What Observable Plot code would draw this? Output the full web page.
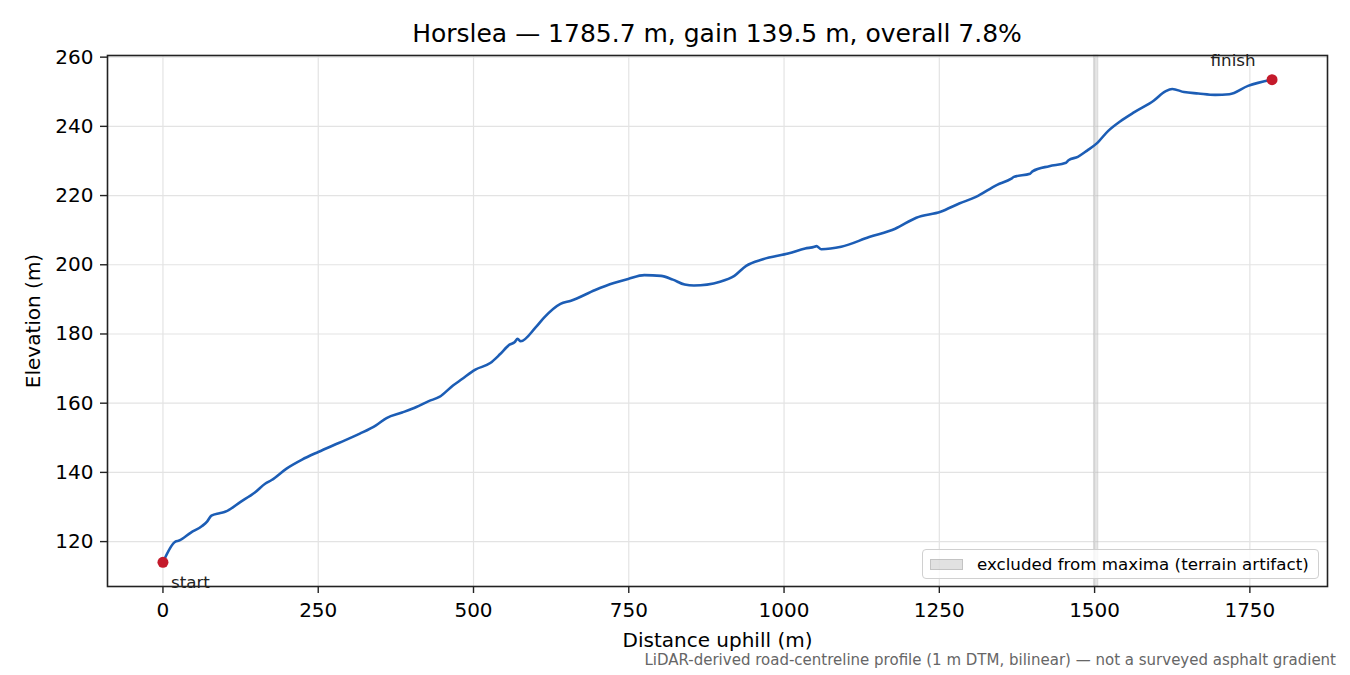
<!DOCTYPE html>
<html>
<head>
<meta charset="utf-8">
<script src="https://cdn.jsdelivr.net/npm/d3@7"></script>
<script src="https://cdn.jsdelivr.net/npm/@observablehq/plot@0.6"></script>
<style>
  html, body { margin: 0; padding: 0; background: #fff; }
  #wrap { position: relative; width: 1350px; height: 675px; font-family: "DejaVu Sans", sans-serif; color: #000; overflow: hidden; }
  #title { position: absolute; left: 107px; width: 1220px; top: 19px; line-height: 29px; font-size: 25px; text-align: center; white-space: nowrap; }
  #chart { position: absolute; left: 0; top: 53px; }
  #caption { position: absolute; right: 14px; top: 652px; font-size: 15px; line-height: 17px; color: #666; white-space: nowrap; }
  #legend { position: absolute; left: 922px; top: 549px; width: 397px; height: 30px; border: 1px solid #d0d0d0; border-radius: 4px; background: rgba(255,255,255,0.8); box-sizing: border-box; font-size: 16.7px; display: flex; align-items: center; }
  #legend .sw { width: 33px; height: 11px; margin-left: 7px; margin-right: 14px; background: rgba(180,180,180,0.4); border: 1px solid rgba(150,150,150,0.4); box-sizing: border-box; }
</style>
</head>
<body>
<div id="wrap">
  <div id="title"></div>
  <div id="chart"></div>
  <div id="legend"><div class="sw"></div><span id="legtext"></span></div>
  <div id="caption"></div>
</div>
<script>
// ---- data ----
const titleText = "Horslea — 1785.7 m, gain 139.5 m, overall 7.8%";
const captionText = "LiDAR-derived road-centreline profile (1 m DTM, bilinear) — not a surveyed asphalt gradient";
const legendText = "excluded from maxima (terrain artifact)";
const xLabel = "Distance uphill (m)";
const yLabel = "Elevation (m)";

const distance = [0, 20, 26, 45, 63, 71, 78, 91, 100, 125, 148, 165, 175, 199, 224, 250, 283, 317, 343, 360,
  385, 408, 428, 445, 467, 481, 503, 527, 543, 558, 566, 571, 576, 600, 614, 640, 657, 696, 726, 749,
  775, 802, 821, 840, 855, 897, 920, 939, 966, 1008, 1034, 1049, 1052, 1060, 1092, 1137, 1179, 1213, 1252, 1282,
  1309, 1343, 1366, 1370, 1396, 1400, 1427, 1454, 1458, 1473, 1488, 1503, 1522, 1541, 1564, 1595, 1614, 1625, 1644, 1667,
  1694, 1717, 1747, 1785.7];
const elevation = [114.0, 120.0, 120.3, 122.6, 124.5, 125.8, 127.5, 128.2, 128.6, 131.5, 134.2, 136.8, 137.8, 141.1, 143.7, 145.9, 148.5, 151.2, 153.6, 155.7,
  157.3, 158.9, 160.6, 161.8, 165.1, 166.9, 169.7, 171.6, 174.2, 176.9, 177.6, 178.6, 177.9, 181.9, 184.8, 188.7, 189.6, 192.7, 194.7, 195.9,
  197.0, 196.8, 195.7, 194.3, 194.0, 195.1, 196.8, 199.7, 201.6, 203.3, 204.7, 205.2, 205.4, 204.5, 205.2, 208.0, 210.4, 213.6, 215.3, 217.7,
  219.6, 223.1, 224.9, 225.4, 226.3, 227.0, 228.5, 229.5, 230.2, 231.2, 233.0, 235.0, 238.7, 241.4, 244.1, 247.4, 250.1, 250.8, 249.9, 249.5,
  249.1, 249.3, 251.7, 253.5];

const excludedStart = [1499];
const excludedEnd = [1506];

const endpointLabels = ["start", "finish"];
const xTicks = [0, 250, 500, 750, 1000, 1250, 1500, 1750];
const yTicks = [120, 140, 160, 180, 200, 220, 240, 260];

// ---- build ----
const profile = distance.map((d, i) => ({d, e: elevation[i]}));
const band = excludedStart.map((s, i) => ({x1: s, x2: excludedEnd[i]}));
const last = distance.length - 1;
const endpoints = [
  {d: distance[0], e: elevation[0], label: endpointLabels[0]},
  {d: distance[last], e: elevation[last], label: endpointLabels[1]}
];

const xMin = d3.min(distance), xMax = d3.max(distance);
const yMin = d3.min(elevation), yMax = d3.max(elevation);
const xPad = (xMax - xMin) * 0.05, yPad = (yMax - yMin) * 0.05;

document.getElementById("title").textContent = titleText;
document.getElementById("caption").textContent = captionText;
document.getElementById("legtext").textContent = legendText;

const lineColor = "#1c5db5";
const dotColor = "#c41a2b";
const gridColor = "#e3e3e3";

const chart = Plot.plot({
  width: 1350,
  height: 600,
  marginLeft: 107,
  marginRight: 23,
  marginTop: 2,
  marginBottom: 67,
  style: {fontFamily: "DejaVu Sans, sans-serif", fontSize: "20px", color: "#000", background: "transparent", overflow: "visible"},
  x: {domain: [xMin - xPad, xMax + xPad]},
  y: {domain: [yMin - yPad, yMax + yPad]},
  marks: [
    Plot.gridX(xTicks, {stroke: gridColor, strokeOpacity: 1, strokeWidth: 1.2}),
    Plot.gridY(yTicks, {stroke: gridColor, strokeOpacity: 1, strokeWidth: 1.2}),
    Plot.rect(band, {x1: "x1", x2: "x2", fill: "#b4b4b4", fillOpacity: 0.35, stroke: "#b4b4b4", strokeOpacity: 0.35}),
    Plot.line(profile, {x: "d", y: "e", stroke: lineColor, strokeWidth: 2.6, curve: "monotone-x"}),
    Plot.dot(endpoints, {x: "d", y: "e", r: 5.5, fill: dotColor, stroke: "none"}),
    Plot.text(endpoints.slice(0, 1), {x: "d", y: "e", text: "label", textAnchor: "start", dx: 8, dy: 20, fontSize: 16.7, fill: "#222"}),
    Plot.text(endpoints.slice(1), {x: "d", y: "e", text: "label", textAnchor: "middle", dx: -39, dy: -19, fontSize: 16.7, fill: "#222"}),
    Plot.frame({stroke: "#222", strokeWidth: 1.6}),
    Plot.axisX({ticks: xTicks, tickSize: 7, tickPadding: 9, tickFormat: d3.format("d"), label: xLabel, labelAnchor: "center", labelArrow: "none", labelOffset: 60, stroke: "#222", strokeWidth: 1.4}),
    Plot.axisY({ticks: yTicks, tickSize: 7, tickPadding: 7, tickFormat: d3.format("d"), label: yLabel, labelAnchor: "center", labelArrow: "none", labelOffset: 82, stroke: "#222", strokeWidth: 1.4})
  ]
});
document.getElementById("chart").appendChild(chart);
</script>
</body>
</html>
